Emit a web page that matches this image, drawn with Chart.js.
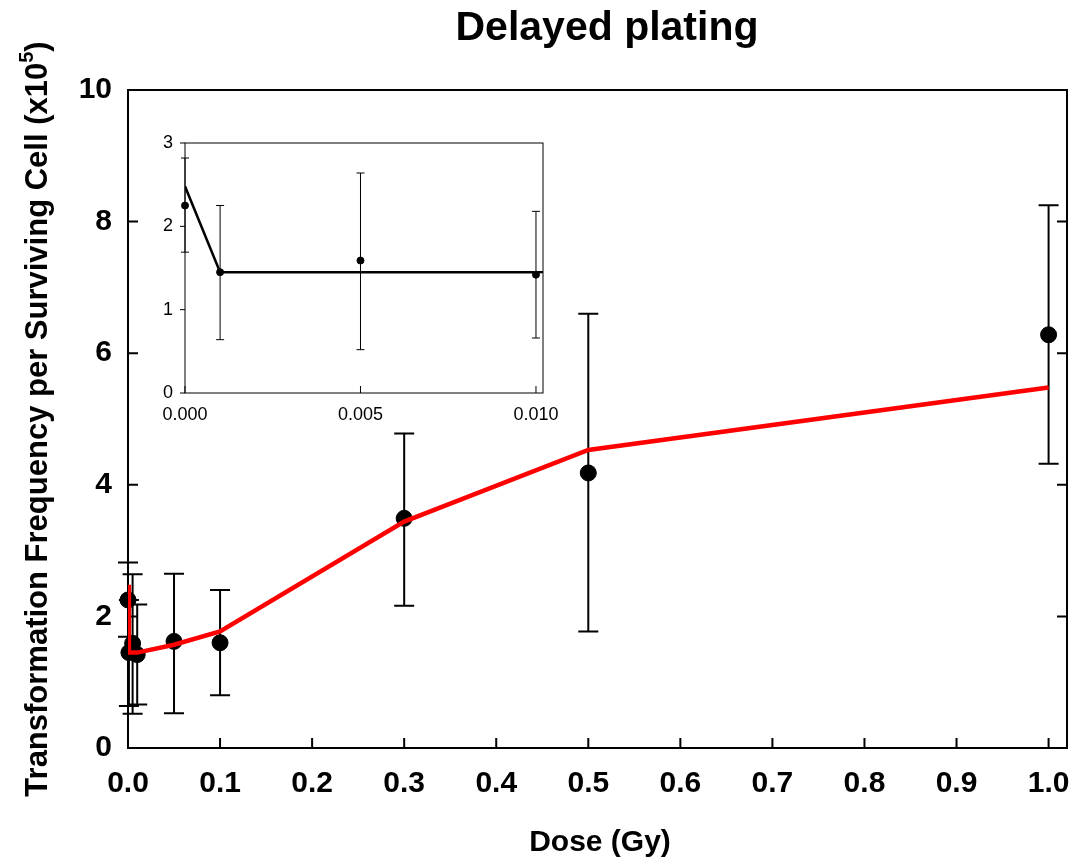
<!DOCTYPE html>
<html>
<head>
<meta charset="utf-8">
<script src="https://cdn.jsdelivr.net/npm/chart.js@4.4.0/dist/chart.umd.min.js"></script>
<style>
  html, body { margin: 0; padding: 0; background: #fff; }
  #wrap { position: relative; width: 1076px; height: 862px; }
  #main { position: absolute; left: 0; top: 0; }
  #inset { position: absolute; left: 140px; top: 128px; }
</style>
</head>
<body>
<div id="wrap">
  <canvas id="main" width="1076" height="862"></canvas>
  <canvas id="inset" width="440" height="302"></canvas>
</div>
<script>
// dose (Gy) and transformation frequency (x10^5)
var doses   = [0, 0.001, 0.005, 0.01, 0.05, 0.1, 0.3, 0.5, 1.0];
var freq    = [2.25, 1.45, 1.59, 1.42, 1.62, 1.60, 3.49, 4.18, 6.28];
var errLow  = [1.69, 0.64, 0.52, 0.66, 0.53, 0.80, 2.16, 1.77, 4.32];
var errHigh = [2.82, 2.25, 2.64, 2.18, 2.65, 2.40, 4.78, 6.60, 8.25];
// fitted curve, same doses
var fitFreq = [2.48, 1.45, 1.45, 1.45, 1.57, 1.77, 3.44, 4.53, 5.48];

var xTicks = [0, 0.1, 0.2, 0.3, 0.4, 0.5, 0.6, 0.7, 0.8, 0.9, 1.0];
var yTicks = [0, 2, 4, 6, 8, 10];
var insetXTicks = [0, 0.005, 0.01];
var insetYTicks = [0, 1, 2, 3];

var FONT = '"Liberation Sans", Arial, Helvetica, sans-serif';

function pts(ys, maxX) {
  var out = [];
  for (var i = 0; i < doses.length; i++) {
    if (maxX === undefined || doses[i] <= maxX) out.push({x: doses[i], y: ys[i]});
  }
  return out;
}

function noPad(s) {
  s.paddingLeft = 0; s.paddingRight = 0; s.paddingTop = 0; s.paddingBottom = 0;
}

var errorBars = {
  id: 'errorBars',
  beforeDatasetsDraw: function(chart, args, opts) {
    var ctx = chart.ctx, xs = chart.scales.x, ys = chart.scales.y;
    ctx.save();
    ctx.strokeStyle = '#000';
    ctx.lineWidth = opts.width;
    for (var i = 0; i < doses.length; i++) {
      if (doses[i] > xs.max) continue;
      var x = xs.getPixelForValue(doses[i]);
      var y1 = ys.getPixelForValue(errLow[i]);
      var y2 = ys.getPixelForValue(errHigh[i]);
      ctx.beginPath();
      ctx.moveTo(x, y1); ctx.lineTo(x, y2);
      ctx.moveTo(x - opts.cap, y1); ctx.lineTo(x + opts.cap, y1);
      ctx.moveTo(x - opts.cap, y2); ctx.lineTo(x + opts.cap, y2);
      ctx.stroke();
    }
    ctx.restore();
  }
};

// box around the plot plus tick marks (positive length = into the plot)
var frame = {
  id: 'frame',
  beforeDatasetsDraw: function(chart, args, opts) {
    var ctx = chart.ctx, a = chart.chartArea;
    var xs = chart.scales.x, ys = chart.scales.y;
    ctx.save();
    ctx.strokeStyle = '#000';
    ctx.lineWidth = opts.lw;
    ctx.strokeRect(a.left, a.top, a.right - a.left, a.bottom - a.top);
    ctx.beginPath();
    ys.ticks.forEach(function(t) {
      var y = ys.getPixelForValue(t.value);
      if (opts.left) { ctx.moveTo(a.left, y); ctx.lineTo(a.left + opts.left, y); }
      if (opts.right) { ctx.moveTo(a.right, y); ctx.lineTo(a.right - opts.right, y); }
    });
    xs.ticks.forEach(function(t) {
      var x = xs.getPixelForValue(t.value);
      if (opts.bottom) { ctx.moveTo(x, a.bottom); ctx.lineTo(x, a.bottom - opts.bottom); }
    });
    ctx.stroke();
    ctx.restore();
  }
};

var texts = {
  id: 'texts',
  afterDraw: function(chart) {
    var ctx = chart.ctx;
    ctx.save();
    ctx.fillStyle = '#000';
    ctx.textAlign = 'center';
    ctx.textBaseline = 'middle';
    ctx.font = 'bold 41px ' + FONT;
    ctx.fillText('Delayed plating', 607, 29);
    ctx.font = 'bold 30px ' + FONT;
    ctx.fillText('Dose (Gy)', 600, 843);

    ctx.translate(38, 419);
    ctx.rotate(-Math.PI / 2);
    var a = 'Transformation Frequency per Surviving Cell (x10', s = '5', b = ')';
    ctx.font = 'bold 31px ' + FONT;
    var wa = ctx.measureText(a).width, wb = ctx.measureText(b).width;
    ctx.font = 'bold 20px ' + FONT;
    var ws = ctx.measureText(s).width;
    var x0 = -(wa + ws + wb) / 2;
    ctx.textAlign = 'left';
    ctx.font = 'bold 31px ' + FONT;
    ctx.fillText(a, x0, 0);
    ctx.fillText(b, x0 + wa + ws, 0);
    ctx.font = 'bold 20px ' + FONT;
    ctx.fillText(s, x0 + wa, -11);
    ctx.restore();
  }
};

new Chart(document.getElementById('main'), {
  type: 'scatter',
  data: {
    datasets: [{
      label: 'Fit',
      type: 'line',
      data: pts(fitFreq),
      borderColor: 'rgb(255, 0, 0)',
      borderWidth: 4.5,
      pointRadius: 0,
      fill: false,
      tension: 0,
      order: 0
    }, {
      label: 'Data',
      data: pts(freq),
      backgroundColor: '#000',
      borderColor: '#000',
      pointRadius: 8,
      clip: false,
      order: 1
    }]
  },
  options: {
    responsive: false,
    animation: false,
    events: [],
    layout: { padding: { top: 90, right: 8, left: 0, bottom: 0 } },
    plugins: {
      legend: { display: false },
      tooltip: { enabled: false },
      errorBars: { width: 2, cap: 10 },
      frame: { lw: 2, left: 10, right: 10, bottom: 10 }
    },
    scales: {
      x: {
        type: 'linear', min: 0, max: 1.02,
        afterBuildTicks: function(s) { s.ticks = xTicks.map(function(v) { return {value: v}; }); },
        afterFit: function(s) { s.height = 114; noPad(s); },
        grid: { display: false, drawTicks: false },
        border: { display: false },
        ticks: {
          color: '#000', padding: 18, maxRotation: 0, autoSkip: false,
          font: { family: FONT, size: 30, weight: 'bold' },
          callback: function(v) { return v.toFixed(1); }
        }
      },
      y: {
        type: 'linear', min: 0, max: 10,
        afterBuildTicks: function(s) { s.ticks = yTicks.map(function(v) { return {value: v}; }); },
        afterFit: function(s) { s.width = 128; noPad(s); },
        grid: { display: false, drawTicks: false },
        border: { display: false },
        ticks: {
          color: '#000', padding: 16,
          font: { family: FONT, size: 30, weight: 'bold' },
          callback: function(v) { return String(v); }
        }
      }
    }
  },
  plugins: [errorBars, frame, texts]
});

new Chart(document.getElementById('inset'), {
  type: 'scatter',
  data: {
    datasets: [{
      label: 'Fit',
      type: 'line',
      data: pts(fitFreq),
      borderColor: '#000',
      borderWidth: 2.5,
      pointRadius: 0,
      fill: false,
      tension: 0,
      order: 0
    }, {
      label: 'Data',
      data: pts(freq, 0.0102),
      backgroundColor: '#000',
      borderColor: '#000',
      pointRadius: 3.5,
      clip: false,
      order: 1
    }]
  },
  options: {
    responsive: false,
    animation: false,
    events: [],
    layout: { padding: { top: 15, right: 37, left: 0, bottom: 0 } },
    plugins: {
      legend: { display: false },
      tooltip: { enabled: false },
      errorBars: { width: 1, cap: 4 },
      frame: { lw: 1, left: -5, bottom: 7 }
    },
    scales: {
      x: {
        type: 'linear', min: 0, max: 0.0102,
        afterBuildTicks: function(s) { s.ticks = insetXTicks.map(function(v) { return {value: v}; }); },
        afterFit: function(s) { s.height = 37; noPad(s); },
        grid: { display: false, drawTicks: false },
        border: { display: false },
        ticks: {
          color: '#000', padding: 11, maxRotation: 0, autoSkip: false,
          font: { family: FONT, size: 18 },
          callback: function(v) { return v.toFixed(3); }
        }
      },
      y: {
        type: 'linear', min: 0, max: 3,
        afterBuildTicks: function(s) { s.ticks = insetYTicks.map(function(v) { return {value: v}; }); },
        afterFit: function(s) { s.width = 45; noPad(s); },
        grid: { display: false, drawTicks: false },
        border: { display: false },
        ticks: {
          color: '#000', padding: 12,
          font: { family: FONT, size: 18 },
          callback: function(v) { return String(v); }
        }
      }
    }
  },
  plugins: [errorBars, frame]
});
</script>
</body>
</html>
